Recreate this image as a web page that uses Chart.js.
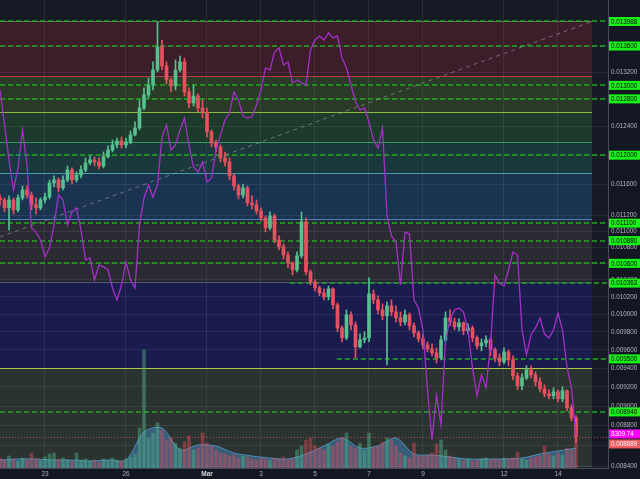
<!DOCTYPE html>
<html>
<head>
<meta charset="utf-8">
<title>chart</title>
<script src="https://cdn.jsdelivr.net/npm/chart.js"></script>
<style>
  html, body { margin: 0; padding: 0; background: #131722; overflow: hidden; }
  canvas { display: block; }
</style>
</head>
<body>
<canvas id="chart" width="640" height="479"></canvas>
<script>
// time is day-of-month, Feb 21 .. Mar 14 (Mar 1 = 29)
var start = 21 + 8 / 24
var step = 4 / 24

var open = [
  0.011426, 0.011400, 0.011296, 0.011400, 0.011270, 0.011426, 0.011531, 0.011465, 0.011335, 0.011296,
  0.011400, 0.011439, 0.011624, 0.011664, 0.011557, 0.011664, 0.011799, 0.011664, 0.011731, 0.011799,
  0.011894, 0.011935, 0.011907, 0.011853, 0.011976, 0.012072, 0.012142, 0.012197, 0.012142, 0.012183,
  0.012282, 0.012380, 0.012667, 0.012858, 0.013006, 0.013231, 0.013585, 0.013293, 0.013081, 0.012991,
  0.013231, 0.013354, 0.012902, 0.012740, 0.012843, 0.012667, 0.012609, 0.012324, 0.012169, 0.012114,
  0.011962, 0.011907, 0.011718, 0.011584, 0.011465, 0.011557, 0.011361, 0.011335, 0.011257, 0.011167,
  0.011040, 0.011192, 0.010889, 0.010802, 0.010703, 0.010605, 0.010521, 0.010691, 0.011116, 0.010497,
  0.010377, 0.010306, 0.010247, 0.010200, 0.010294, 0.010107, 0.009844, 0.009732, 0.009992, 0.009878,
  0.009632, 0.009710, 0.009732, 0.010235, 0.010165, 0.010049, 0.009981, 0.010096, 0.010026, 0.009958,
  0.009912, 0.009992, 0.009867, 0.009788, 0.009721, 0.009654, 0.009610, 0.009566, 0.009512, 0.009710,
  0.009958, 0.009912, 0.009856, 0.009901, 0.009811, 0.009844, 0.009732, 0.009643, 0.009676, 0.009710,
  0.009599, 0.009512, 0.009468, 0.009577, 0.009490, 0.009317, 0.009211, 0.009296, 0.009382, 0.009328,
  0.009254, 0.009180, 0.009127, 0.009106, 0.009148, 0.009075, 0.009159, 0.008982, 0.008879
]
var high = [
  0.011465, 0.011426, 0.011452, 0.011426, 0.011465, 0.011584, 0.011584, 0.011505, 0.011426, 0.011426,
  0.011491, 0.011664, 0.011718, 0.011691, 0.011718, 0.011853, 0.011826, 0.011772, 0.011853, 0.011962,
  0.011989, 0.011976, 0.011962, 0.012044, 0.012128, 0.012211, 0.012239, 0.012253, 0.012239, 0.012338,
  0.012466, 0.012784, 0.012962, 0.013111, 0.013354, 0.013980, 0.013694, 0.013354, 0.013111, 0.013384,
  0.013446, 0.013415, 0.012962, 0.013006, 0.012873, 0.012784, 0.012667, 0.012352, 0.012211, 0.012142,
  0.012044, 0.011962, 0.011745, 0.011610, 0.011610, 0.011584, 0.011452, 0.011400, 0.011296, 0.011192,
  0.011244, 0.011218, 0.010939, 0.010839, 0.010740, 0.010618, 0.010740, 0.011244, 0.011167, 0.010521,
  0.010401, 0.010329, 0.010294, 0.010329, 0.010306, 0.010130, 0.009867, 0.010049, 0.010026, 0.009912,
  0.009777, 0.009800, 0.010425, 0.010282, 0.010212, 0.010119, 0.010142, 0.010165, 0.010096, 0.010026,
  0.010049, 0.010015, 0.009901, 0.009811, 0.009766, 0.009688, 0.009665, 0.009621, 0.009755, 0.010026,
  0.010049, 0.009958, 0.009946, 0.009912, 0.009889, 0.009867, 0.009755, 0.009721, 0.009755, 0.009732,
  0.009621, 0.009555, 0.009621, 0.009599, 0.009533, 0.009349, 0.009339, 0.009425, 0.009425, 0.009360,
  0.009296, 0.009222, 0.009169, 0.009190, 0.009169, 0.009201, 0.009169, 0.009013, 0.008900
]
var low = [
  0.011335, 0.011244, 0.011014, 0.011218, 0.011244, 0.011400, 0.011426, 0.011270, 0.011218, 0.011270,
  0.011361, 0.011413, 0.011571, 0.011505, 0.011531, 0.011637, 0.011610, 0.011637, 0.011691, 0.011772,
  0.011866, 0.011853, 0.011812, 0.011826, 0.011962, 0.012044, 0.012100, 0.012100, 0.012100, 0.012156,
  0.012268, 0.012352, 0.012638, 0.012814, 0.012932, 0.013201, 0.013231, 0.013021, 0.012902, 0.012932,
  0.013201, 0.012843, 0.012667, 0.012696, 0.012609, 0.012523, 0.012253, 0.012114, 0.012044, 0.011907,
  0.011853, 0.011664, 0.011531, 0.011413, 0.011426, 0.011322, 0.011283, 0.011218, 0.011128, 0.010989,
  0.011014, 0.010852, 0.010765, 0.010654, 0.010545, 0.010461, 0.010497, 0.010666, 0.010461, 0.010341,
  0.010270, 0.010212, 0.010165, 0.010165, 0.010061, 0.009800, 0.009688, 0.009710, 0.009822, 0.009512,
  0.009621, 0.009676, 0.009688, 0.010119, 0.010003, 0.009935, 0.009435, 0.009981, 0.009912, 0.009867,
  0.009878, 0.009822, 0.009744, 0.009688, 0.009610, 0.009577, 0.009533, 0.009457, 0.009490, 0.009688,
  0.009867, 0.009822, 0.009811, 0.009766, 0.009777, 0.009688, 0.009610, 0.009588, 0.009632, 0.009533,
  0.009468, 0.009425, 0.009446, 0.009425, 0.009275, 0.009169, 0.009169, 0.009275, 0.009296, 0.009211,
  0.009148, 0.009096, 0.009075, 0.009075, 0.009044, 0.009044, 0.008951, 0.008849, 0.008629
]
var close = [
  0.011400, 0.011296, 0.011400, 0.011270, 0.011426, 0.011531, 0.011465, 0.011335, 0.011296, 0.011400,
  0.011439, 0.011624, 0.011664, 0.011557, 0.011664, 0.011799, 0.011664, 0.011731, 0.011799, 0.011894,
  0.011935, 0.011907, 0.011853, 0.011976, 0.012072, 0.012142, 0.012197, 0.012142, 0.012183, 0.012282,
  0.012380, 0.012667, 0.012858, 0.013006, 0.013231, 0.013585, 0.013293, 0.013081, 0.012991, 0.013231,
  0.013354, 0.012902, 0.012740, 0.012843, 0.012667, 0.012609, 0.012324, 0.012169, 0.012114, 0.011962,
  0.011907, 0.011718, 0.011584, 0.011465, 0.011557, 0.011361, 0.011335, 0.011257, 0.011167, 0.011040,
  0.011192, 0.010889, 0.010802, 0.010703, 0.010605, 0.010521, 0.010691, 0.011116, 0.010497, 0.010377,
  0.010306, 0.010247, 0.010200, 0.010294, 0.010107, 0.009844, 0.009732, 0.009992, 0.009878, 0.009632,
  0.009710, 0.009732, 0.010235, 0.010165, 0.010049, 0.009981, 0.010096, 0.010026, 0.009958, 0.009912,
  0.009992, 0.009867, 0.009788, 0.009721, 0.009654, 0.009610, 0.009566, 0.009512, 0.009710, 0.009958,
  0.009912, 0.009856, 0.009901, 0.009811, 0.009844, 0.009732, 0.009643, 0.009676, 0.009710, 0.009599,
  0.009512, 0.009468, 0.009577, 0.009490, 0.009317, 0.009211, 0.009296, 0.009382, 0.009328, 0.009254,
  0.009180, 0.009127, 0.009106, 0.009148, 0.009075, 0.009159, 0.008982, 0.008879, 0.008689
]
var volume = [
  20, 16, 24, 18, 14, 20, 16, 30, 18, 16,
  22, 28, 30, 18, 20, 16, 14, 30, 16, 18,
  14, 16, 12, 18, 14, 20, 16, 14, 18, 22,
  28, 80, 236, 60, 70, 90, 76, 56, 60, 50,
  40, 52, 64, 36, 40, 70, 50, 44, 36, 30,
  28, 24, 26, 20, 24, 22, 18, 16, 20, 18,
  16, 20, 18, 22, 16, 18, 36, 44, 56, 60,
  44, 40, 36, 48, 44, 52, 60, 70, 44, 40,
  50, 36, 70, 40, 44, 52, 60, 56, 44, 30,
  24, 20, 50, 24, 24, 26, 30, 48, 56, 36,
  24, 20, 18, 16, 18, 14, 16, 18, 20, 16,
  18, 16, 20, 18, 20, 32, 18, 16, 20, 22,
  24, 44, 28, 24, 30, 26, 40, 36, 60
]
// volume average, one value every 4th candle
var volumeAvg = [16, 18, 18, 16, 16, 14, 16, 16, 72, 80, 36, 46, 44, 30, 24, 20, 18,
  28, 44, 60, 40, 44, 60, 28, 26, 22, 18, 18, 18, 20, 28, 34, 40]
// BTCUSD overlay
var btc = [
  11156, 10868, 10580, 10333, 10514, 10827, 10539, 10020, 9987, 9922,
  9782, 9856, 10045, 10292, 10250, 10045, 10152, 10185, 10004, 9757,
  9774, 9593, 9716, 9700, 9675, 9527, 9428, 9551, 9741, 9593,
  9527, 10045, 10267, 10374, 10275, 10374, 10769, 10868, 10662, 10703,
  10827, 10925, 10703, 10522, 10481, 10563, 10399, 10432, 10662, 10785,
  10909, 10966, 11139, 11073, 10942, 10925, 10934, 11032, 11156, 11337,
  11320, 11468, 11501, 11361, 11386, 11213, 11238, 11213, 11197, 11485,
  11567, 11600, 11567, 11625, 11583, 11600, 11419, 11337, 11197, 11057,
  10991, 11008, 10892, 10744, 10678, 10843, 10127, 9955, 9905, 9551,
  9987, 9971, 9428, 9362, 9181, 8688, 8276, 8647, 8400, 9099,
  9264, 9346, 9362, 9329, 9181, 8869, 8638, 8811, 8704, 9058,
  9634, 9568, 9543, 9675, 9823, 9798, 9181, 8976, 9140, 9198,
  9280, 9148, 9115, 9181, 9321, 9181, 8877, 8704, 8309.74
]

var levels = [0.013988, 0.0136, 0.0130, 0.0128, 0.0120, 0.0111, 0.01088, 0.0106, 0.010363, 0.0095, 0.00894]
var levelFrom = [start, start, start, start, start, start, start, start, 32.07, 33.81, start]
var zoneEdges = [0.013988, 0.013141, 0.012609, 0.012179, 0.011763, 0.011154, 0.01038, 0.009403, 0.0084]
var zoneEnd = 43.26
var trendDays = [start, zoneEnd]
var trendPrices = [0.010926, 0.013988]
var yTicks = [0.0136, 0.0132, 0.0128, 0.0124, 0.0120, 0.0116, 0.0112, 0.0110, 0.0108, 0.0106, 0.0104,
  0.0102, 0.0100, 0.0098, 0.0096, 0.0094, 0.0092, 0.0090, 0.0088, 0.0086, 0.0084]
var dayTicks = [23, 26, 29, 31, 33, 35, 37, 40, 42]
var dayLabels = ['23', '26', 'Mar', '3', '5', '7', '9', '12', '14']

var zoneFill = ['#3b1e2a', '#2b3a27', '#1d3b2b', '#1b393d', '#1a3350', '#2a2b32', '#1b1c4e', '#2b3331']
var zoneLine = ['#7b6b73', '#b63d3f', '#8fb63e', '#2f9d5c', '#45a3a6', '#4588bf', '#555a66', '#a6c53b', '#3b4341']
var green = '#56c08f'
var red = '#e9505f'
var font = '"Liberation Sans", Arial, sans-serif'

var t = close.map(function (c, i) { return start + i * step })
var up = close.map(function (c, i) { return c >= open[i] })
var candleColor = up.map(function (u) { return u ? green : red })
var volColor = up.map(function (u) { return u ? 'rgba(83,185,135,0.45)' : 'rgba(235,77,92,0.42)' })

var overlay = {
  id: 'overlay',
  beforeDraw: function (chart) {
    var ctx = chart.ctx, a = chart.chartArea, x = chart.scales.x, y = chart.scales.y
    ctx.save()
    ctx.fillStyle = '#131722'
    ctx.fillRect(0, 0, chart.width, chart.height)
    ctx.fillStyle = '#171b26'
    ctx.fillRect(a.left, a.top, a.width, a.height)
    var right = x.getPixelForValue(zoneEnd)
    for (var i = 0; i < zoneFill.length; i++) {
      var y0 = y.getPixelForValue(zoneEdges[i])
      var y1 = y.getPixelForValue(zoneEdges[i + 1])
      ctx.fillStyle = zoneFill[i]
      ctx.fillRect(a.left, y0, right - a.left, y1 - y0)
    }
    ctx.lineWidth = 1
    zoneEdges.forEach(function (v, i) {
      var py = Math.round(y.getPixelForValue(v)) + 0.5
      ctx.strokeStyle = zoneLine[i]
      ctx.beginPath()
      ctx.moveTo(a.left, py)
      ctx.lineTo(right, py)
      ctx.stroke()
    })
    ctx.restore()
  },
  beforeDatasetsDraw: function (chart) {
    var ctx = chart.ctx, a = chart.chartArea, x = chart.scales.x, y = chart.scales.y
    ctx.save()
    ctx.lineWidth = 1.3
    ctx.setLineDash([5, 3])
    ctx.strokeStyle = '#22a822'
    levels.forEach(function (v, i) {
      var py = Math.round(y.getPixelForValue(v))
      ctx.beginPath()
      ctx.moveTo(x.getPixelForValue(levelFrom[i]), py)
      ctx.lineTo(a.right, py)
      ctx.stroke()
    })
    // last price line
    ctx.lineWidth = 1
    ctx.setLineDash([1, 2])
    ctx.strokeStyle = 'rgba(235,77,92,0.75)'
    var pp = Math.round(y.getPixelForValue(close[close.length - 1])) + 0.5
    ctx.beginPath()
    ctx.moveTo(a.left, pp)
    ctx.lineTo(a.right, pp)
    ctx.stroke()
    ctx.restore()
  },
  afterDraw: function (chart) {
    var ctx = chart.ctx, a = chart.chartArea, y = chart.scales.y, yb = chart.scales.yBtc
    ctx.save()
    ctx.font = '6.3px ' + font
    ctx.textBaseline = 'middle'
    function badge(py, fill, ink, text) {
      ctx.fillStyle = fill
      ctx.fillRect(a.right + 1, py - 4.5, chart.width - a.right - 1, 9)
      ctx.fillStyle = ink
      ctx.fillText(text, a.right + 3, py + 0.5)
    }
    levels.forEach(function (v) {
      badge(y.getPixelForValue(v), '#17f217', '#000', v.toFixed(6))
    })
    var last = close[close.length - 1]
    var btcY = yb.getPixelForValue(btc[btc.length - 1]) - 2
    var priceY = Math.max(y.getPixelForValue(last), btcY + 10)
    badge(btcY, '#ff00ff', '#fff', btc[btc.length - 1].toFixed(2))
    badge(priceY, '#ef5a5f', '#fff', last.toFixed(6))
    ctx.restore()
  }
}

new Chart(document.getElementById('chart'), {
  type: 'bar',
  data: {
    datasets: [
      {
        type: 'line',
        label: 'Volume MA',
        data: volumeAvg.map(function (v, k) { return { x: t[k * 4], y: v } }),
        yAxisID: 'yVol',
        fill: 'origin',
        backgroundColor: 'rgba(62,128,178,0.55)',
        borderColor: 'rgba(86,156,206,0.8)',
        borderWidth: 1,
        pointRadius: 0,
        tension: 0.3,
        order: 7,
      },
      {
        label: 'Volume',
        data: volume.map(function (v, i) { return { x: t[i], y: v } }),
        yAxisID: 'yVol',
        backgroundColor: volColor,
        barThickness: 3,
        grouped: false,
        order: 6,
      },
      {
        type: 'line',
        label: 'Trend',
        data: trendDays.map(function (d, k) { return { x: d, y: trendPrices[k] } }),
        yAxisID: 'y',
        borderColor: 'rgba(165,168,178,0.55)',
        borderDash: [4, 4],
        borderWidth: 1,
        pointRadius: 0,
        order: 5,
      },
      {
        label: 'Wick',
        data: t.map(function (x, i) { return { x: x, y: [low[i], high[i]] } }),
        yAxisID: 'y',
        backgroundColor: candleColor,
        barThickness: 1,
        grouped: false,
        order: 4,
      },
      {
        label: 'Body',
        data: t.map(function (x, i) { return { x: x, y: [open[i], close[i]] } }),
        yAxisID: 'y',
        backgroundColor: candleColor,
        barThickness: 3,
        minBarLength: 1,
        grouped: false,
        order: 3,
      },
      {
        type: 'line',
        label: 'BTCUSD',
        data: btc.map(function (v, i) { return { x: t[i], y: v } }),
        yAxisID: 'yBtc',
        borderColor: '#a52fc8',
        borderWidth: 1.3,
        pointRadius: 0,
        tension: 0,
        order: 2,
      },
    ],
  },
  options: {
    responsive: false,
    devicePixelRatio: 1,
    animation: false,
    layout: { padding: 0 },
    plugins: {
      legend: { display: false },
      tooltip: { enabled: false },
    },
    scales: {
      x: {
        type: 'linear',
        min: start,
        max: 43.852,
        offset: false,
        afterBuildTicks: function (s) { s.ticks = dayTicks.map(function (v) { return { value: v } }) },
        afterFit: function (s) { s.height = 11; s.paddingLeft = 0; s.paddingRight = 0 },
        ticks: {
          autoSkip: false,
          maxRotation: 0,
          padding: 2,
          color: function (c) { return c.tick && c.tick.value === 29 ? '#d8dae0' : '#aeb1ba' },
          font: function (c) {
            return { family: font, size: 6.5, weight: c.tick && c.tick.value === 29 ? 'bold' : 'normal' }
          },
          callback: function (v) { return dayLabels[dayTicks.indexOf(v)] },
        },
        grid: { color: 'rgba(255,255,255,0.07)', drawTicks: false, offset: false },
        border: { color: '#474b57' },
      },
      y: {
        type: 'logarithmic',
        position: 'right',
        min: 0.008383,
        max: 0.014337,
        afterBuildTicks: function (s) { s.ticks = yTicks.map(function (v) { return { value: v } }) },
        afterFit: function (s) { s.width = 32; s.paddingTop = 0; s.paddingBottom = 0 },
        ticks: {
          padding: 3,
          color: '#b2b5be',
          font: { family: font, size: 6.3 },
          callback: function (v) { return Number(v).toFixed(6) },
        },
        grid: { color: 'rgba(255,255,255,0.07)', drawTicks: false },
        border: { color: '#474b57' },
      },
      yBtc: { type: 'linear', display: false, min: 8046, max: 11896 },
      yVol: { type: 'linear', display: false, min: 0, max: 936 },
    },
  },
  plugins: [overlay],
})
</script>
</body>
</html>
